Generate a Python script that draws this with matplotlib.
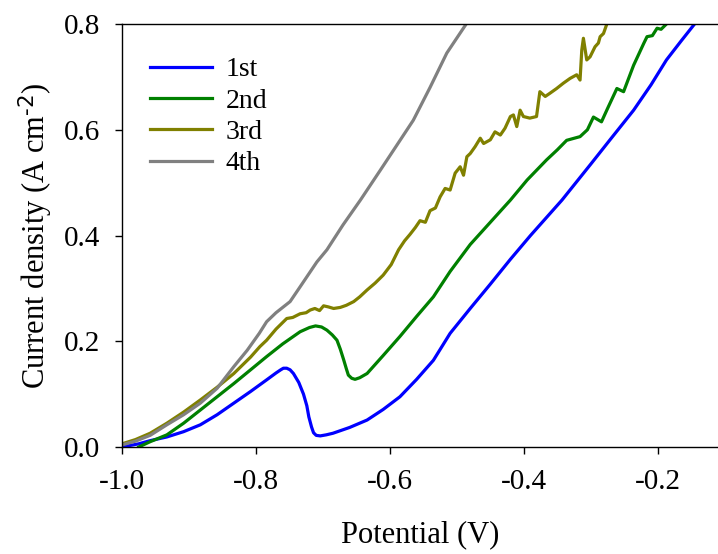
import matplotlib
matplotlib.use("Agg")
import matplotlib.pyplot as plt

plt.rcParams["font.family"] = ["Liberation Serif", "DejaVu Serif"]
plt.rcParams["mathtext.default"] = "regular"

# Scan 1
v1 = [-1.0, -0.975, -0.958, -0.933, -0.908, -0.883, -0.858, -0.833, -0.808, -0.784,
      -0.770, -0.763, -0.759, -0.754, -0.749, -0.744, -0.736, -0.729, -0.724, -0.721,
      -0.717, -0.714, -0.710, -0.704, -0.695, -0.685, -0.660, -0.634, -0.610, -0.585,
      -0.560, -0.535, -0.510, -0.480, -0.450, -0.420, -0.390, -0.343, -0.300, -0.270,
      -0.236, -0.210, -0.187, -0.165, -0.145]
j1 = [0.000, 0.006, 0.012, 0.019, 0.029, 0.042, 0.061, 0.083, 0.105, 0.127,
      0.140, 0.146, 0.149, 0.149, 0.146, 0.139, 0.122, 0.100, 0.078, 0.057,
      0.038, 0.027, 0.022, 0.021, 0.023, 0.026, 0.037, 0.051, 0.071, 0.095,
      0.128, 0.164, 0.215, 0.262, 0.308, 0.355, 0.400, 0.467, 0.535, 0.583,
      0.637, 0.685, 0.732, 0.768, 0.800]

# Scan 2
v2 = [-0.975, -0.958, -0.933, -0.908, -0.883, -0.858, -0.833, -0.808, -0.784, -0.760,
      -0.734, -0.720, -0.711, -0.702, -0.694, -0.686, -0.679, -0.674, -0.669, -0.665,
      -0.662, -0.657, -0.652, -0.645, -0.634, -0.610, -0.585, -0.560, -0.535, -0.510,
      -0.480, -0.450, -0.420, -0.395, -0.366, -0.350, -0.336, -0.316, -0.305, -0.296,
      -0.284, -0.275, -0.261, -0.251, -0.236, -0.221, -0.216, -0.208, -0.201, -0.195,
      -0.187]
j2 = [0.000, 0.010, 0.023, 0.045, 0.070, 0.095, 0.120, 0.146, 0.171, 0.195,
      0.218, 0.226, 0.229, 0.227, 0.221, 0.212, 0.202, 0.185, 0.165, 0.148,
      0.136, 0.130, 0.128, 0.131, 0.139, 0.173, 0.209, 0.247, 0.284, 0.332,
      0.383, 0.425, 0.467, 0.505, 0.543, 0.562, 0.580, 0.587, 0.600, 0.624,
      0.615, 0.640, 0.678, 0.672, 0.722, 0.763, 0.776, 0.778, 0.792, 0.790,
      0.800]

# Scan 3
v3 = [-1.0, -0.980, -0.958, -0.933, -0.908, -0.883, -0.858, -0.833, -0.808, -0.794,
      -0.784, -0.770, -0.754, -0.745, -0.734, -0.725, -0.719, -0.712, -0.705, -0.699,
      -0.692, -0.684, -0.674, -0.665, -0.654, -0.645, -0.634, -0.622, -0.610, -0.598,
      -0.587, -0.578, -0.570, -0.562, -0.555, -0.547, -0.540, -0.532, -0.525, -0.5175,
      -0.510, -0.5025, -0.495, -0.490, -0.485, -0.480, -0.4727, -0.465, -0.460, -0.450,
      -0.443, -0.435, -0.428, -0.420, -0.4155, -0.4105, -0.4055, -0.4006, -0.391, -0.381,
      -0.376, -0.368, -0.361, -0.351, -0.341, -0.331, -0.321, -0.316, -0.3134, -0.311,
      -0.306, -0.301, -0.2936, -0.2886, -0.286, -0.281, -0.276]
j3 = [0.006, 0.014, 0.026, 0.045, 0.066, 0.089, 0.113, 0.139, 0.170, 0.190,
      0.202, 0.223, 0.243, 0.245, 0.252, 0.254, 0.259, 0.262, 0.258, 0.267,
      0.265, 0.262, 0.264, 0.268, 0.275, 0.284, 0.297, 0.310, 0.325, 0.345,
      0.373, 0.390, 0.402, 0.415, 0.428, 0.425, 0.447, 0.452, 0.473, 0.489,
      0.486, 0.518, 0.530, 0.514, 0.549, 0.555, 0.568, 0.584, 0.574, 0.581,
      0.596, 0.590, 0.603, 0.625, 0.628, 0.606, 0.637, 0.625, 0.622, 0.625,
      0.672, 0.663, 0.669, 0.678, 0.688, 0.697, 0.704, 0.694, 0.751, 0.773,
      0.732, 0.738, 0.757, 0.764, 0.776, 0.782, 0.800]

# Scan 4
v4 = [-1.0, -0.980, -0.958, -0.933, -0.908, -0.883, -0.858, -0.833, -0.813, -0.795,
      -0.784, -0.770, -0.759, -0.749, -0.734, -0.709, -0.694, -0.670, -0.644, -0.614,
      -0.590, -0.565, -0.540, -0.515, -0.486]
j4 = [0.004, 0.011, 0.022, 0.042, 0.061, 0.083, 0.111, 0.152, 0.183, 0.215,
      0.237, 0.254, 0.265, 0.275, 0.303, 0.350, 0.373, 0.420, 0.467, 0.524,
      0.570, 0.618, 0.680, 0.745, 0.800]

labels = ["1st", "2nd", "3rd", "4th"]
colors = ["#0000ff", "#008000", "#808000", "#808080"]

fig = plt.figure(figsize=(7.18, 5.54), dpi=100)
ax = fig.add_axes([122 / 718, 107 / 554, 596 / 718, 423 / 554])

for v, j, lab, c in zip([v1, v2, v3, v4], [j1, j2, j3, j4], labels, colors):
    ax.plot(v, j, color=c, lw=2.3, label=lab, solid_joinstyle="round")

ax.set_xlim(-1.0, -0.11)
ax.set_ylim(0.0, 0.8)
ax.set_xticks([-1.0, -0.8, -0.6, -0.4, -0.2])
ax.set_yticks([0.0, 0.2, 0.4, 0.6, 0.8])
ax.set_xticklabels(["-1.0", "-0.8", "-0.6", "-0.4", "-0.2"])
ax.set_yticklabels(["0.0", "0.2", "0.4", "0.6", "0.8"])
ax.spines["right"].set_visible(False)
for s in ["left", "bottom", "top"]:
    ax.spines[s].set_linewidth(1.0)
ax.tick_params(direction="out", length=5, width=1.0, labelsize=21, pad=11,
               top=False, right=False)

ax.set_xlabel("Potential (V)", fontsize=22, labelpad=18)
ax.set_ylabel(r"Current density (A cm$^{\text{-2}}$)", fontsize=22, labelpad=6)

ax.legend(loc="upper left", bbox_to_anchor=(0.047, 0.922), frameon=False,
          fontsize=20, handlelength=2.23, handletextpad=0.5, labelspacing=0.21,
          borderpad=0, borderaxespad=0)

fig.savefig("out.png", dpi=100)
